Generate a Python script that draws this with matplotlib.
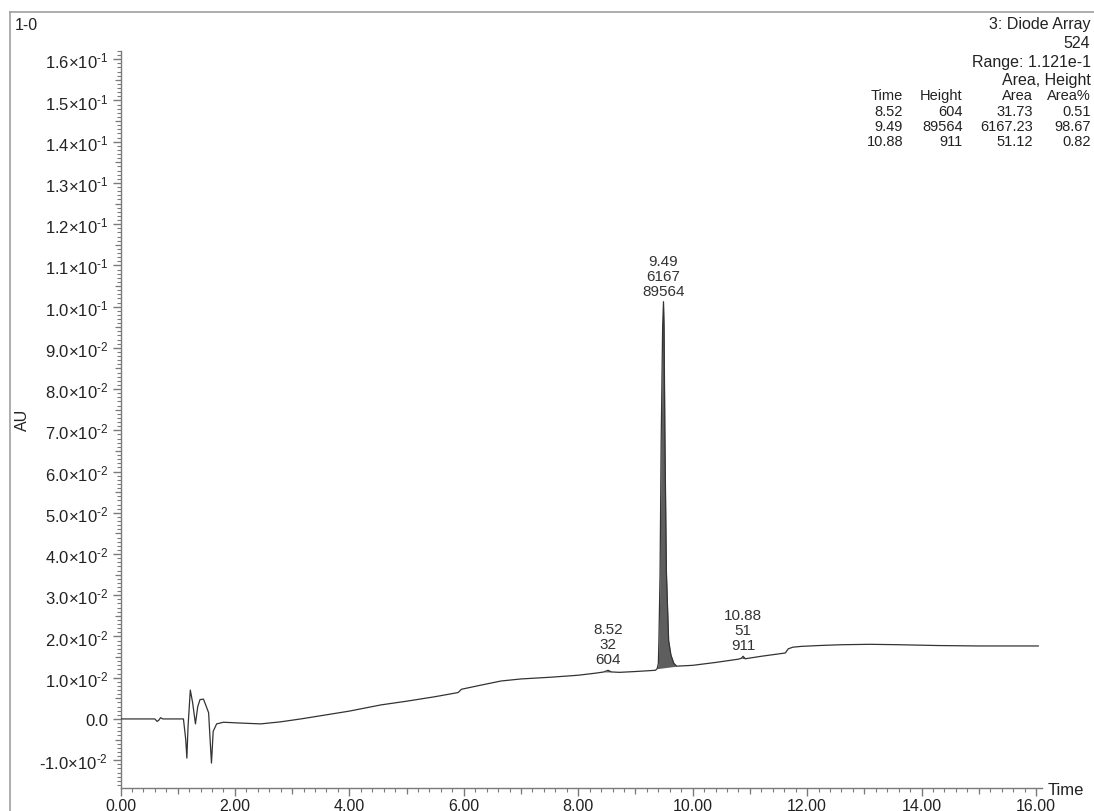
import numpy as np
import matplotlib
matplotlib.use("Agg")
import matplotlib.pyplot as plt
from matplotlib.ticker import FixedLocator, MultipleLocator, FuncFormatter, NullFormatter
from matplotlib.lines import Line2D

plt.rcParams['font.family'] = ['Liberation Sans', 'DejaVu Sans']
plt.rcParams['mathtext.fontset'] = 'custom'
plt.rcParams['mathtext.rm'] = 'Liberation Sans'
plt.rcParams['mathtext.it'] = 'Liberation Sans:italic'
plt.rcParams['mathtext.bf'] = 'Liberation Sans:bold'

# Chromatogram trace (retention time in min, absorbance in AU)
time_min = [0.00, 0.60, 0.64, 0.67, 0.70, 0.74, 1.10, 1.14, 1.16, 1.18, 1.22, 1.26,
            1.31, 1.35, 1.39, 1.45, 1.50, 1.54, 1.57, 1.59, 1.62, 1.68, 1.80, 2.10,
            2.45, 2.80, 3.15, 3.60, 4.00, 4.55, 5.00, 5.50, 5.90, 5.96, 6.30, 6.65,
            7.00, 7.50, 8.00, 8.30, 8.45, 8.52, 8.58, 8.72, 9.00, 9.35, 9.38, 9.40,
            9.41, 9.43, 9.45, 9.475, 9.49, 9.50, 9.515, 9.54, 9.58, 9.62, 9.67, 9.72,
            10.00, 10.40, 10.80, 10.85, 10.88, 10.92, 11.20, 11.62, 11.67, 11.75,
            11.90, 12.20, 12.60, 13.10, 13.60, 14.30, 15.00, 15.60, 16.04]
absorbance = [0.0000, 0.0000, -0.0006, -0.0003, 0.0003, 0.0000, 0.0000, -0.0050,
              -0.0095, -0.0020, 0.0070, 0.0040, -0.0012, 0.0030, 0.0047, 0.0048,
              0.0030, 0.0015, -0.0060, -0.0107, -0.0030, -0.0012, -0.0008, -0.0010,
              -0.0012, -0.0007, 0.0000, 0.0010, 0.0019, 0.0034, 0.0043, 0.0054,
              0.0064, 0.0072, 0.0082, 0.0092, 0.0097, 0.0101, 0.0106, 0.0111,
              0.0114, 0.0118, 0.0114, 0.0113, 0.0115, 0.0118, 0.0122, 0.0135,
              0.0190, 0.0350, 0.0680, 0.0950, 0.1012, 0.0950, 0.0680, 0.0360,
              0.0190, 0.0155, 0.0135, 0.0128, 0.0130, 0.0137, 0.0145, 0.0147,
              0.0152, 0.0146, 0.0152, 0.0160, 0.0170, 0.0174, 0.0176, 0.0178,
              0.0180, 0.0181, 0.0180, 0.0178, 0.0177, 0.0177, 0.0177]

# Integrated peaks
peak_time = [8.52, 9.49, 10.88]
peak_start = [8.45, 9.38, 10.85]
peak_end = [8.58, 9.72, 10.92]
peak_height = [604, 89564, 911]
peak_area = [31.73, 6167.23, 51.12]
peak_area_pct = [0.51, 98.67, 0.82]

# Axis ticks
y_ticks = [-0.01, 0.0, 0.01, 0.02, 0.03, 0.04, 0.05, 0.06, 0.07, 0.08, 0.09,
           0.10, 0.11, 0.12, 0.13, 0.14, 0.15, 0.16]
y_tick_labels = [r'$\mathregular{\text{-}1.0{\times}10^{\text{-}2}}$', '0.0'] + \
    [r'$\mathregular{%.1f{\times}10^{\text{-}2}}$' % v for v in range(1, 10)] + \
    [r'$\mathregular{%.1f{\times}10^{\text{-}1}}$' % (v / 10) for v in range(10, 17)]
x_ticks = [0, 2, 4, 6, 8, 10, 12, 14, 16]

W, H = 1094, 812
fig = plt.figure(figsize=(W / 100, H / 100), dpi=100)
fig.patch.set_facecolor('white')


def fx(px):
    return px / W


def fy(py):
    return 1 - py / H


ax = fig.add_axes([fx(120.5), fy(789), fx(1041.7) - fx(120.5), fy(52) - fy(789)])
ax.set_xlim(0, 16.1)
ax.set_ylim(-0.01675, 0.1620)

t = np.array(time_min)
a = np.array(absorbance)
trace_color = '#333333'
ax.plot(t, a, color=trace_color, lw=0.9, zorder=3)

# Shade integrated peaks down to a straight baseline between start and end
for ts, te in zip(peak_start, peak_end):
    m = (t >= ts) & (t <= te)
    ys = np.interp(ts, t, a)
    ye = np.interp(te, t, a)
    base = ys + (ye - ys) * (t[m] - ts) / (te - ts)
    ax.fill_between(t[m], base, a[m], color='#5e5e5e', lw=0, zorder=2)

# Peak labels: time / area / height
for pt, ar, ht in zip(peak_time, peak_area, peak_height):
    apex = np.interp(pt, t, a)
    ax.annotate(f"{pt:.2f}\n{ar:.0f}\n{ht}", xy=(pt, apex), xytext=(0, 3),
                textcoords='offset points', ha='center', va='bottom',
                fontsize=11, color='#333333', linespacing=1.08)

for side in ('top', 'right'):
    ax.spines[side].set_visible(False)
for side in ('left', 'bottom'):
    ax.spines[side].set_color('#7a7a7a')
    ax.spines[side].set_linewidth(1.0)

ax.yaxis.set_major_locator(FixedLocator(y_ticks))
ax.set_yticklabels(y_tick_labels)
ax.yaxis.set_minor_locator(MultipleLocator(0.001))
ax.xaxis.set_major_locator(FixedLocator(x_ticks))
ax.xaxis.set_major_formatter(FuncFormatter(lambda v, p: f"{v:.2f}"))
ax.xaxis.set_minor_locator(MultipleLocator(0.2))
ax.tick_params(axis='both', which='major', length=6, width=1.0, color='#7a7a7a',
               labelsize=12, labelcolor='#222222')
ax.tick_params(axis='both', which='minor', length=3, width=0.8, color='#7a7a7a')
ax.tick_params(axis='y', which='major', pad=3)
ax.tick_params(axis='x', which='major', pad=1, labelsize=11.5)

# Mid-interval ticks, slightly longer than minor ticks
sec_y = ax.secondary_yaxis('left')
sec_y.yaxis.set_major_locator(FixedLocator([v + 0.005 for v in y_ticks]))
sec_y.yaxis.set_major_formatter(NullFormatter())
sec_y.tick_params(length=4.5, width=0.9, color='#7a7a7a')
sec_y.spines['left'].set_visible(False)
sec_x = ax.secondary_xaxis('bottom')
sec_x.xaxis.set_major_locator(FixedLocator([v + 1 for v in x_ticks]))
sec_x.xaxis.set_major_formatter(NullFormatter())
sec_x.tick_params(length=4.5, width=0.9, color='#7a7a7a')
sec_x.spines['bottom'].set_visible(False)

# Axis titles
fig.text(fx(1066), fy(791), 'Time', ha='center', va='center', fontsize=12, color='#222222')
fig.text(fx(22), fy(420), 'AU', ha='center', va='center', rotation=90,
         fontsize=11.5, color='#222222')

# Outer frame
fig.add_artist(Line2D([fx(10), fx(10)], [fy(13), 0], color='#a0a0a0', lw=1.2,
                      transform=fig.transFigure))
fig.add_artist(Line2D([fx(10), 1], [fy(13), fy(13)], color='#a0a0a0', lw=1.2,
                      transform=fig.transFigure))

fig.text(fx(15), fy(26), '1-0', ha='left', va='center', fontsize=11.5, color='#222222')

# Channel header
header = ['3: Diode Array', '524', 'Range: 1.121e-1', 'Area, Height']
header_y = [25, 43, 62, 80]
for s, yy in zip(header, header_y):
    fig.text(fx(1090.5), fy(yy), s, ha='right', va='center', fontsize=11.5, color='#222222')

# Peak table
col_right = [903, 962.7, 1032.7, 1090.7]
row_y = [96, 111.5, 127, 142.5]
rows = [['Time', 'Height', 'Area', 'Area%']]
for pt, ht, ar, pc in zip(peak_time, peak_height, peak_area, peak_area_pct):
    rows.append([f"{pt:.2f}", f"{ht}", f"{ar:.2f}", f"{pc:.2f}"])
for r, yy in zip(rows, row_y):
    for s, xx in zip(r, col_right):
        fig.text(fx(xx), fy(yy), s, ha='right', va='center', fontsize=10.5, color='#222222')

fig.savefig('out.png', dpi=100, facecolor='white')
